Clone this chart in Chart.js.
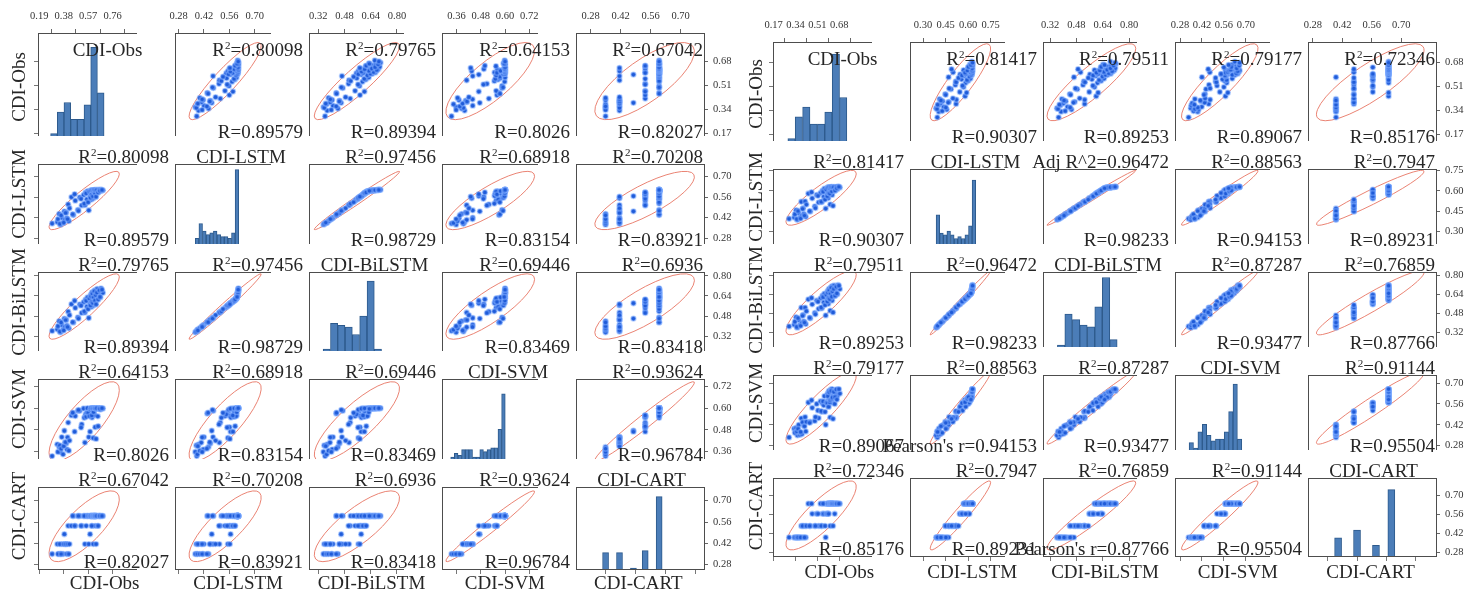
<!DOCTYPE html>
<html>
<head>
<meta charset="utf-8">
<title>CDI scatter matrices</title>
<script src="https://cdn.jsdelivr.net/npm/chart.js@4.4.1/dist/chart.umd.min.js"></script>
<style>
  html, body { margin: 0; padding: 0; background: #fff; }
  #stage { position: relative; width: 1467px; height: 592px; overflow: hidden; font-family: "Liberation Serif", "Times New Roman", serif; color: #262626; }
  #stage canvas { position: absolute; }
  .txt { position: absolute; white-space: nowrap; font-size: 19px; line-height: 19px; z-index: 2; }
  .txt sup { font-size: 11px; vertical-align: 7px; line-height: 0; }
  .right { transform: translateX(-100%); }
  .center { transform: translateX(-50%); }
  .rot { transform: translate(-50%, -50%) rotate(-90deg); }
</style>
</head>
<body>
<div id="stage"></div>
<script>
const VARS = ["CDI-Obs", "CDI-LSTM", "CDI-BiLSTM", "CDI-SVM", "CDI-CART"];
const PAIRS = [[0, 1], [0, 2], [0, 3], [0, 4], [1, 2], [1, 3], [1, 4], [2, 3], [2, 4], [3, 4]];

// observed CDI, shared by both panels
const obs = [0.29, 0.33, 0.345, 0.355, 0.365, 0.375, 0.385, 0.39, 0.40, 0.405, 0.415, 0.42, 0.44, 0.455, 0.47, 0.49, 0.505, 0.52, 0.535, 0.545, 0.55, 0.56, 0.565, 0.575, 0.585, 0.59, 0.595, 0.595, 0.60, 0.60, 0.605, 0.61, 0.61, 0.615, 0.615, 0.62, 0.62, 0.62, 0.625, 0.625, 0.63, 0.63, 0.635, 0.64, 0.645, 0.65, 0.655, 0.665, 0.67, 0.685,
  0.335, 0.35, 0.36, 0.38, 0.395, 0.41, 0.425, 0.45, 0.465, 0.495, 0.515, 0.54, 0.555, 0.57, 0.58, 0.588, 0.592, 0.598, 0.603, 0.607, 0.612, 0.618, 0.623, 0.628, 0.632, 0.638, 0.648, 0.658, 0.662, 0.678];

// left panel models
const lstmL = [0.38, 0.39, 0.445, 0.372, 0.42, 0.384, 0.463, 0.405, 0.455, 0.416, 0.51, 0.397, 0.56, 0.438, 0.536, 0.472, 0.558, 0.503, 0.575, 0.505, 0.59, 0.545, 0.60, 0.47, 0.567, 0.605, 0.543, 0.595, 0.608, 0.569, 0.602, 0.552, 0.606, 0.586, 0.607, 0.578, 0.603, 0.60, 0.609, 0.561, 0.604, 0.607, 0.598, 0.61, 0.591, 0.605, 0.608, 0.601, 0.61, 0.606,
  0.41, 0.378, 0.436, 0.386, 0.452, 0.41, 0.484, 0.443, 0.58, 0.467, 0.548, 0.516, 0.586, 0.525, 0.598, 0.556, 0.604, 0.579, 0.607, 0.566, 0.601, 0.609, 0.588, 0.606, 0.563, 0.608, 0.592, 0.61, 0.603, 0.609];
const bilstmL = [0.362, 0.375, 0.44, 0.352, 0.41, 0.372, 0.46, 0.392, 0.45, 0.405, 0.515, 0.383, 0.575, 0.43, 0.545, 0.47, 0.572, 0.505, 0.59, 0.508, 0.61, 0.555, 0.628, 0.465, 0.582, 0.648, 0.553, 0.612, 0.668, 0.584, 0.632, 0.565, 0.657, 0.603, 0.676, 0.594, 0.64, 0.622, 0.686, 0.575, 0.638, 0.66, 0.619, 0.695, 0.609, 0.651, 0.67, 0.63, 0.70, 0.665,
  0.40, 0.357, 0.43, 0.366, 0.449, 0.394, 0.487, 0.432, 0.602, 0.461, 0.563, 0.518, 0.601, 0.536, 0.62, 0.565, 0.639, 0.593, 0.658, 0.584, 0.629, 0.677, 0.603, 0.647, 0.574, 0.667, 0.613, 0.685, 0.632, 0.69];
const svmL = [0.335, 0.40, 0.385, 0.358, 0.44, 0.345, 0.475, 0.41, 0.405, 0.372, 0.52, 0.365, 0.56, 0.57, 0.556, 0.585, 0.585, 0.51, 0.598, 0.41, 0.565, 0.575, 0.60, 0.44, 0.47, 0.598, 0.566, 0.59, 0.60, 0.548, 0.596, 0.435, 0.60, 0.578, 0.60, 0.594, 0.599, 0.562, 0.60, 0.495, 0.597, 0.60, 0.60, 0.60, 0.555, 0.599, 0.60, 0.592, 0.60, 0.598,
  0.358, 0.394, 0.376, 0.39, 0.412, 0.439, 0.421, 0.575, 0.47, 0.59, 0.493, 0.547, 0.552, 0.574, 0.556, 0.592, 0.60, 0.56, 0.60, 0.597, 0.578, 0.60, 0.599, 0.598, 0.43, 0.60, 0.50, 0.60, 0.596, 0.60];
const cartL = [0.35, 0.415, 0.35, 0.35, 0.415, 0.35, 0.48, 0.415, 0.415, 0.35, 0.535, 0.35, 0.535, 0.60, 0.535, 0.60, 0.60, 0.535, 0.60, 0.415, 0.60, 0.60, 0.60, 0.415, 0.48, 0.60, 0.60, 0.60, 0.60, 0.535, 0.60, 0.415, 0.60, 0.60, 0.60, 0.60, 0.60, 0.60, 0.60, 0.535, 0.60, 0.60, 0.60, 0.60, 0.535, 0.60, 0.60, 0.60, 0.60, 0.60,
  0.35, 0.415, 0.35, 0.415, 0.415, 0.415, 0.415, 0.60, 0.535, 0.60, 0.535, 0.60, 0.535, 0.60, 0.60, 0.60, 0.60, 0.535, 0.60, 0.60, 0.60, 0.60, 0.60, 0.60, 0.415, 0.60, 0.535, 0.60, 0.60, 0.60];

// right panel models
const lstmR = [0.395, 0.405, 0.458, 0.387, 0.437, 0.404, 0.52, 0.416, 0.472, 0.43, 0.522, 0.41, 0.58, 0.448, 0.545, 0.486, 0.57, 0.515, 0.584, 0.518, 0.601, 0.556, 0.616, 0.47, 0.576, 0.624, 0.547, 0.607, 0.626, 0.578, 0.621, 0.50, 0.625, 0.595, 0.627, 0.586, 0.622, 0.613, 0.628, 0.57, 0.619, 0.625, 0.603, 0.629, 0.60, 0.624, 0.626, 0.612, 0.63, 0.625,
  0.428, 0.393, 0.452, 0.397, 0.468, 0.419, 0.499, 0.451, 0.59, 0.474, 0.563, 0.52, 0.593, 0.536, 0.609, 0.56, 0.622, 0.584, 0.626, 0.58, 0.616, 0.628, 0.596, 0.624, 0.49, 0.627, 0.603, 0.629, 0.619, 0.63];
const bilstmR = [0.372, 0.387, 0.45, 0.362, 0.426, 0.383, 0.53, 0.40, 0.47, 0.415, 0.53, 0.392, 0.60, 0.44, 0.558, 0.485, 0.59, 0.52, 0.608, 0.525, 0.63, 0.574, 0.648, 0.465, 0.598, 0.668, 0.562, 0.638, 0.688, 0.60, 0.656, 0.505, 0.678, 0.622, 0.70, 0.612, 0.662, 0.645, 0.71, 0.59, 0.652, 0.682, 0.632, 0.716, 0.628, 0.672, 0.69, 0.642, 0.72, 0.686,
  0.412, 0.368, 0.442, 0.377, 0.462, 0.405, 0.50, 0.445, 0.612, 0.474, 0.58, 0.532, 0.618, 0.552, 0.638, 0.582, 0.657, 0.611, 0.677, 0.602, 0.647, 0.697, 0.622, 0.667, 0.49, 0.687, 0.631, 0.706, 0.651, 0.715];
const svmR = [0.335, 0.393, 0.398, 0.349, 0.419, 0.352, 0.463, 0.358, 0.437, 0.415, 0.472, 0.375, 0.57, 0.44, 0.534, 0.446, 0.56, 0.465, 0.578, 0.507, 0.565, 0.551, 0.613, 0.42, 0.575, 0.63, 0.542, 0.578, 0.648, 0.587, 0.596, 0.47, 0.605, 0.60, 0.657, 0.575, 0.622, 0.585, 0.66, 0.57, 0.625, 0.615, 0.604, 0.648, 0.56, 0.64, 0.63, 0.613, 0.657, 0.63,
  0.366, 0.375, 0.393, 0.372, 0.437, 0.41, 0.44, 0.433, 0.585, 0.472, 0.516, 0.512, 0.578, 0.507, 0.569, 0.566, 0.613, 0.542, 0.639, 0.572, 0.586, 0.648, 0.595, 0.604, 0.46, 0.642, 0.607, 0.658, 0.59, 0.66];
const cartR = [0.39, 0.39, 0.39, 0.39, 0.39, 0.39, 0.475, 0.39, 0.475, 0.39, 0.475, 0.39, 0.64, 0.475, 0.565, 0.475, 0.565, 0.475, 0.64, 0.475, 0.565, 0.565, 0.64, 0.39, 0.64, 0.64, 0.565, 0.64, 0.64, 0.64, 0.64, 0.475, 0.64, 0.64, 0.64, 0.64, 0.64, 0.64, 0.64, 0.64, 0.64, 0.64, 0.64, 0.64, 0.565, 0.64, 0.64, 0.64, 0.64, 0.64,
  0.39, 0.39, 0.39, 0.39, 0.475, 0.39, 0.475, 0.475, 0.64, 0.475, 0.565, 0.475, 0.64, 0.475, 0.565, 0.565, 0.64, 0.565, 0.64, 0.64, 0.64, 0.64, 0.64, 0.64, 0.475, 0.64, 0.64, 0.64, 0.64, 0.64];

// diagonal histograms (bin centres, counts)
const obsBinsL = [0.304, 0.356, 0.408, 0.460, 0.512, 0.564, 0.616, 0.668];
const obsCountsL = [1, 10, 14, 7, 7, 13, 37, 18];
const lstmBinsL = [0.382, 0.402, 0.422, 0.442, 0.462, 0.482, 0.502, 0.522, 0.542, 0.562, 0.582, 0.602];
const lstmCountsL = [3, 11, 7, 5, 6, 7, 5, 4, 4, 3, 6, 40];
const bilstmBinsL = [0.372, 0.417, 0.461, 0.506, 0.550, 0.595, 0.640, 0.684];
const bilstmCountsL = [1, 15, 14, 13, 9, 19, 38, 1];
const svmBinsL = [0.340, 0.358, 0.376, 0.394, 0.412, 0.430, 0.448, 0.466, 0.484, 0.502, 0.520, 0.538, 0.556, 0.574, 0.592];
const svmCountsL = [1, 3, 2, 5, 5, 5, 1, 1, 5, 4, 5, 6, 6, 16, 35];
const cartBinsL = [0.35, 0.415, 0.48, 0.535, 0.60];
const cartCountsL = [9, 9, 1, 10, 38];

const obsBinsR = [0.309, 0.366, 0.424, 0.481, 0.539, 0.596, 0.654, 0.711];
const obsCountsR = [1, 10, 14, 7, 7, 12, 36, 18];
const lstmBinsR = [0.399, 0.423, 0.447, 0.471, 0.495, 0.519, 0.543, 0.567, 0.591, 0.615, 0.639];
const lstmCountsR = [16, 6, 5, 7, 5, 3, 4, 3, 5, 10, 35];
const bilstmBinsR = [0.387, 0.432, 0.478, 0.523, 0.569, 0.614, 0.660, 0.705];
const bilstmCountsR = [1, 18, 15, 12, 11, 22, 38, 4];
const svmBinsR = [0.352, 0.380, 0.408, 0.436, 0.464, 0.492, 0.520, 0.548, 0.576, 0.604, 0.632, 0.660];
const svmCountsR = [4, 1, 10, 14, 8, 5, 6, 6, 10, 21, 36, 6];
const cartBinsR = [0.40, 0.49, 0.58, 0.653];
const cartCountsR = [10, 14, 6, 35];

// tick labels
const colTicksL = [[0.19, 0.38, 0.57, 0.76], [0.28, 0.42, 0.56, 0.70], [0.32, 0.48, 0.64, 0.80], [0.36, 0.48, 0.60, 0.72], [0.28, 0.42, 0.56, 0.70]];
const rowTicksL = [[0.17, 0.34, 0.51, 0.68], [0.28, 0.42, 0.56, 0.70], [0.32, 0.48, 0.64, 0.80], [0.36, 0.48, 0.60, 0.72], [0.28, 0.42, 0.56, 0.70]];
const colTicksR = [[0.17, 0.34, 0.51, 0.68], [0.30, 0.45, 0.60, 0.75], [0.32, 0.48, 0.64, 0.80], [0.28, 0.42, 0.56, 0.70], [0.28, 0.42, 0.56, 0.70]];
const rowTicksR = [[0.17, 0.34, 0.51, 0.68], [0.30, 0.45, 0.60, 0.75], [0.32, 0.48, 0.64, 0.80], [0.28, 0.42, 0.56, 0.70], [0.28, 0.42, 0.56, 0.70]];

// statistics printed in the cells, in PAIRS order
const r2TextL = ["0.80098", "0.79765", "0.64153", "0.67042", "0.97456", "0.68918", "0.70208", "0.69446", "0.6936", "0.93624"];
const rTextL = ["0.89579", "0.89394", "0.8026", "0.82027", "0.98729", "0.83154", "0.83921", "0.83469", "0.83418", "0.96784"];
const r2TextR = ["0.81417", "0.79511", "0.79177", "0.72346", "0.96472", "0.88563", "0.7947", "0.87287", "0.76859", "0.91144"];
const rTextR = ["0.90307", "0.89253", "0.89067", "0.85176", "0.98233", "0.94153", "0.89231", "0.93477", "0.87766", "0.95504"];

// ---- drawing ----
const stage = document.getElementById("stage");
const PAD = 14;
const AXIS_TOP = 24;
const AXIS_RIGHT = 34;
const EDGE_TICK = 4;
const ELLIPSE_K = 2.55;
const SERIF = '"Liberation Serif", "Times New Roman", serif';
const TICK_FONT = { family: SERIF, size: 10.5 };

const fmt = (v) => Number(v).toFixed(2);
const mean = (a) => a.reduce((s, v) => s + v, 0) / a.length;

const matrices = [
  {
    x0: 38, y0: 33, cw: 133.4, rh: 107.4, histTop: 43, cartBar: 6,
    colLabelY: 573, rowLabelX: 18,
    series: [obs, lstmL, bilstmL, svmL, cartL],
    bins: [obsBinsL, lstmBinsL, bilstmBinsL, svmBinsL, cartBinsL],
    counts: [obsCountsL, lstmCountsL, bilstmCountsL, svmCountsL, cartCountsL],
    colTicks: colTicksL, rowTicks: rowTicksL,
    colRange: [[0.18, 0.95], [0.26, 0.79], [0.264, 0.843], [0.288, 0.763], [0.212, 0.814]],
    rowRange: [[0.15, 0.88], [0.24, 0.786], [0.203, 0.83], [0.319, 0.761], [0.245, 0.79]],
    r2: r2TextL, r: rTextL, r2Prefix: {}, rPrefix: {}
  },
  {
    x0: 773, y0: 42, cw: 132.8, rh: 103, histTop: 41, cartBar: 7,
    colLabelY: 562, rowLabelX: 755,
    series: [obs, lstmR, bilstmR, svmR, cartR],
    bins: [obsBinsR, lstmBinsR, bilstmBinsR, svmBinsR, cartBinsR],
    counts: [obsCountsR, lstmCountsR, bilstmCountsR, svmCountsR, cartCountsR],
    colTicks: colTicksR, rowTicks: rowTicksR,
    colRange: [[0.165, 0.935], [0.213, 0.846], [0.277, 0.848], [0.248, 0.854], [0.257, 0.87]],
    rowRange: [[0.122, 0.825], [0.21, 0.76], [0.199, 0.83], [0.25, 0.755], [0.245, 0.83]],
    r2: r2TextR, r: rTextR,
    r2Prefix: { "1,2": "Adj R^2=" },
    rPrefix: { "3,1": "Pearson's r=", "4,2": "Pearson's r=" }
  }
];

const addText = (html, x, y, cls) => {
  const el = document.createElement("div");
  el.className = `txt ${cls || ""}`;
  el.innerHTML = html;
  el.style.left = `${x}px`;
  el.style.top = `${y}px`;
  stage.appendChild(el);
  return el;
};

const pairIndex = (i, j) => {
  const a = Math.min(i, j);
  const b = Math.max(i, j);
  return PAIRS.findIndex((p) => p[0] === a && p[1] === b);
};

const drawEllipse = (chart, xs, ys) => {
  const { ctx, chartArea: area, scales } = chart;
  const n = xs.length;
  const mx = mean(xs);
  const my = mean(ys);
  let vx = 0, vy = 0, cxy = 0;
  xs.forEach((x, k) => {
    const dx = x - mx;
    const dy = ys[k] - my;
    vx += dx * dx;
    vy += dy * dy;
    cxy += dx * dy;
  });
  vx /= n - 1; vy /= n - 1; cxy /= n - 1;
  const sx = scales.x.getPixelForValue(1) - scales.x.getPixelForValue(0);
  const sy = scales.y.getPixelForValue(1) - scales.y.getPixelForValue(0);
  const a11 = sx * sx * vx;
  const a22 = sy * sy * vy;
  const a12 = sx * sy * cxy;
  const half = (a11 + a22) / 2;
  const disc = Math.sqrt(((a11 - a22) / 2) ** 2 + a12 * a12);
  const l1 = half + disc;
  const l2 = Math.max(half - disc, 0);
  const theta = 0.5 * Math.atan2(2 * a12, a11 - a22);
  ctx.save();
  ctx.beginPath();
  ctx.rect(area.left, area.top, area.right - area.left, area.bottom - area.top);
  ctx.clip();
  ctx.beginPath();
  ctx.ellipse(scales.x.getPixelForValue(mx), scales.y.getPixelForValue(my),
    ELLIPSE_K * Math.sqrt(l1), ELLIPSE_K * Math.sqrt(l2), theta, 0, Math.PI * 2);
  ctx.strokeStyle = "rgba(232, 118, 100, 0.9)";
  ctx.lineWidth = 1;
  ctx.stroke();
  ctx.restore();
};

// outer tick marks without labels (left and bottom edges)
const edgeAxis = (position, shown, range, ticks, horizontal) => ({
  type: "linear", position, display: shown, offset: false,
  min: range[0], max: range[1],
  afterBuildTicks: (s) => { s.ticks = ticks.map((v) => ({ value: v })); },
  afterFit: (s) => {
    if (horizontal) { s.height = EDGE_TICK; s.paddingLeft = 0; s.paddingRight = 0; }
    else { s.width = EDGE_TICK; s.paddingTop = 0; s.paddingBottom = 0; }
  },
  grid: { drawOnChartArea: false, tickLength: EDGE_TICK, color: "#777" },
  border: { display: false },
  ticks: { display: false }
});

const buildCell = (m, i, j) => {
  const left = Math.round(m.x0 + j * m.cw);
  const right = Math.round(m.x0 + (j + 1) * m.cw);
  const top = Math.round(m.y0 + i * m.rh);
  const bottom = Math.round(m.y0 + (i + 1) * m.rh);
  const showTop = i === 0;
  const showRight = j === 4;
  const showLeft = j === 0;
  const showBottom = i === 4;
  const padTop = PAD + (showTop ? AXIS_TOP : 0);
  const padRight = PAD + (showRight ? AXIS_RIGHT : 0);
  const diag = i === j;

  const canvas = document.createElement("canvas");
  canvas.width = right - left + PAD + padRight;
  canvas.height = bottom - top + padTop + PAD;
  canvas.style.left = `${left - PAD}px`;
  canvas.style.top = `${top - padTop}px`;
  stage.appendChild(canvas);

  const xs = m.series[j];
  const ys = m.series[i];

  const scales = {
    x: {
      type: "linear", position: "top", display: showTop, offset: false,
      min: m.colRange[j][0], max: m.colRange[j][1],
      afterBuildTicks: (s) => { s.ticks = m.colTicks[j].map((v) => ({ value: v })); },
      afterFit: (s) => { s.height = AXIS_TOP; s.paddingLeft = 0; s.paddingRight = 0; },
      grid: { drawOnChartArea: false, tickLength: 4, color: "#666" },
      border: { display: false },
      ticks: { font: TICK_FONT, color: "#333", padding: 6, maxRotation: 0, autoSkip: false, callback: fmt }
    },
    y: {
      type: "linear", position: "right", display: showRight,
      min: m.rowRange[i][0], max: m.rowRange[i][1],
      afterBuildTicks: (s) => { s.ticks = m.rowTicks[i].map((v) => ({ value: v })); },
      afterFit: (s) => { s.width = AXIS_RIGHT; s.paddingTop = 0; s.paddingBottom = 0; },
      grid: { drawOnChartArea: false, tickLength: 3, color: "#666" },
      border: { display: false },
      ticks: { font: TICK_FONT, color: "#333", padding: 5, autoSkip: false, callback: fmt }
    },
    xb: edgeAxis("bottom", showBottom, m.colRange[j], m.colTicks[j], true),
    yl: edgeAxis("left", showLeft, m.rowRange[i], m.rowTicks[i], false)
  };

  let datasets;
  if (diag) {
    scales.yc = { type: "linear", display: false, min: 0, max: m.histTop };
    const bar = {
      type: "bar",
      data: m.bins[i].map((c, k) => ({ x: c, y: m.counts[i][k] })),
      xAxisID: "x", yAxisID: "yc",
      backgroundColor: "#4b7db8", borderColor: "#2d5a8c", borderWidth: 1,
      barPercentage: 1, categoryPercentage: 1
    };
    if (i === 4) bar.barThickness = m.cartBar;
    datasets = [bar];
  } else {
    datasets = [{
      type: "scatter",
      data: xs.map((x, k) => ({ x, y: ys[k] })),
      xAxisID: "x", yAxisID: "y",
      pointRadius: 2.4, pointHoverRadius: 2.4,
      backgroundColor: "#1f5bd8", borderColor: "rgba(125, 172, 255, 0.5)", borderWidth: 1.6
    }];
  }

  const cellPlugin = {
    id: "cellFrame",
    beforeDatasetsDraw(chart) {
      if (!diag) drawEllipse(chart, xs, ys);
    },
    afterDraw(chart) {
      const { ctx, chartArea: a } = chart;
      ctx.save();
      ctx.strokeStyle = "#4d4d4d";
      ctx.lineWidth = 1;
      ctx.beginPath();
      ctx.moveTo(a.left + 0.5, a.top); ctx.lineTo(a.left + 0.5, a.bottom);
      ctx.moveTo(a.left, a.top + 0.5); ctx.lineTo(a.right, a.top + 0.5);
      if (j === 4) { ctx.moveTo(a.right - 0.5, a.top); ctx.lineTo(a.right - 0.5, a.bottom); }
      if (i === 4) { ctx.moveTo(a.left, a.bottom - 0.5); ctx.lineTo(a.right, a.bottom - 0.5); }
      ctx.stroke();
      ctx.restore();
    }
  };

  new Chart(canvas.getContext("2d"), {
    type: diag ? "bar" : "scatter",
    data: { datasets },
    options: {
      responsive: false,
      animation: false,
      devicePixelRatio: 1,
      events: [],
      layout: {
        padding: {
          left: PAD - (showLeft ? EDGE_TICK : 0),
          right: PAD,
          top: PAD,
          bottom: PAD - (showBottom ? EDGE_TICK : 0)
        }
      },
      scales,
      plugins: { legend: { display: false }, tooltip: { enabled: false } }
    },
    plugins: [cellPlugin]
  });

  // cell texts
  if (diag) {
    addText(VARS[i], (left + right) / 2 + 3, top + 7, "center");
  } else {
    const k = pairIndex(i, j);
    const key = `${i},${j}`;
    const r2Html = m.r2Prefix[key] ? m.r2Prefix[key] + m.r2[k] : `R<sup>2</sup>=${m.r2[k]}`;
    const rHtml = (m.rPrefix[key] || "R=") + m.r[k];
    addText(r2Html, right - 2, top + 7, "right");
    addText(rHtml, right - 2, bottom - 18, "right");
  }
};

matrices.forEach((m) => {
  for (let i = 0; i < 5; i++) {
    for (let j = 0; j < 5; j++) buildCell(m, i, j);
  }
  VARS.forEach((name, k) => {
    addText(name, m.x0 + (k + 0.5) * m.cw, m.colLabelY, "center");
    addText(name, m.rowLabelX, m.y0 + (k + 0.5) * m.rh, "rot");
  });
});
</script>
</body>
</html>
